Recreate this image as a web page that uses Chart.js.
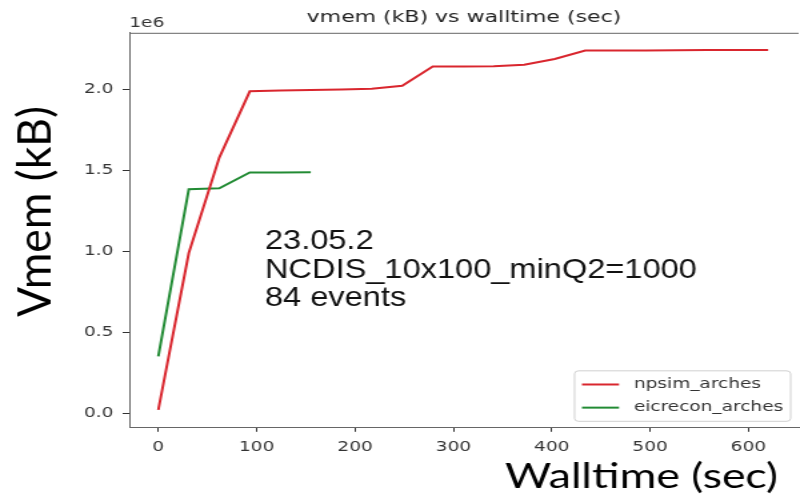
<!DOCTYPE html>
<html>
<head>
<meta charset="utf-8">
<script src="https://cdn.jsdelivr.net/npm/chart.js@4"></script>
<style>
  html, body { margin: 0; padding: 0; background: #fff; overflow: hidden; }
  /* the source picture is stretched sideways, so the whole canvas is too */
  #wrap { width: 600px; height: 497px; transform: scaleX(1.33333); transform-origin: 0 0; }
</style>
</head>
<body>
<div id="wrap"><canvas id="memChart"></canvas></div>
<script>
const npsimTime = [0, 31, 62, 93, 124, 155, 186, 217, 248, 279, 310, 341, 372, 403, 434, 465, 496, 527, 558, 589, 620];
const npsimVmem = [20000, 990000, 1580000, 1990000, 1995000, 1998000, 2002000, 2006000, 2024000, 2143000, 2143000,
                   2145000, 2154000, 2190000, 2242000, 2242000, 2243000, 2244000, 2245000, 2246000, 2246000];
const eicreconTime = [0, 31, 62, 93, 124, 155];
const eicreconVmem = [350000, 1385000, 1390000, 1488000, 1488000, 1489000];
const seriesLabels = ["npsim_arches", "eicrecon_arches"];
const seriesColors = ["#d9262e", "#228b34"];
const xTicks = [0, 100, 200, 300, 400, 500, 600];
const yTicks = [0, 500000, 1000000, 1500000, 2000000];
const noteLines = ["23.05.2", "NCDIS_10x100_minQ2=1000", "84 events"];

const tickFont = { family: "DejaVu Sans", size: 13.9 };

/* text squeezed/stretched to a given width */
function fitText(ctx, text, font, x, y, width) {
    ctx.save();
    ctx.font = font;
    let w = ctx.measureText(text).width;
    ctx.translate(x, y);
    ctx.scale(width / w, 1);
    ctx.textAlign = "left";
    ctx.textBaseline = "alphabetic";
    ctx.fillText(text, 0, 0);
    ctx.restore();
}

const decor = {
    id: "decor",
    afterDatasetsDraw(chart) {
        const ctx = chart.ctx;
        const a = chart.chartArea;

        // top spine
        ctx.save();
        ctx.strokeStyle = "#666";
        ctx.lineWidth = 1;
        ctx.beginPath();
        ctx.moveTo(a.left, a.top + 0.5);
        ctx.lineTo(a.right, a.top + 0.5);
        ctx.stroke();

        // offset text
        ctx.fillStyle = "#333";
        ctx.font = "13.9px 'DejaVu Sans'";
        ctx.textAlign = "left";
        ctx.textBaseline = "alphabetic";
        ctx.fillText("1e6", a.left, a.top - 6);

        // legend box, lower right
        const fs = 13.9, pad = 0.4 * fs, handle = 2 * fs, gap = 0.8 * fs, rowH = 16.2, spacing = 0.5 * fs;
        ctx.font = fs + "px 'DejaVu Sans'";
        let textW = Math.max(...seriesLabels.map(s => ctx.measureText(s).width));
        let bw = 2 * pad + handle + gap + textW;
        let bh = 2 * pad + 2 * rowH + spacing;
        let bx = a.right - 6 - bw, by = a.bottom - 6 - bh;
        ctx.fillStyle = "rgba(255,255,255,0.8)";
        ctx.strokeStyle = "#d0d0d0";
        ctx.beginPath();
        ctx.roundRect(bx, by, bw, bh, 3);
        ctx.fill();
        ctx.stroke();
        chart.data.datasets.forEach((ds, i) => {
            let cy = by + pad + rowH / 2 + i * (rowH + spacing);
            ctx.strokeStyle = ds.borderColor;
            ctx.lineWidth = 2;
            ctx.beginPath();
            ctx.moveTo(bx + pad, cy);
            ctx.lineTo(bx + pad + handle, cy);
            ctx.stroke();
            ctx.fillStyle = "#333";
            ctx.textBaseline = "middle";
            ctx.fillText(ds.label, bx + pad + handle + gap, cy);
        });
        ctx.restore();

        // big slide labels and note
        ctx.save();
        ctx.fillStyle = "#000";
        fitText(ctx, "Walltime (sec)", "35px Lato", 378.7, 488, 204.8);
        ctx.translate(37.5, 317);
        ctx.rotate(-Math.PI / 2);
        fitText(ctx, "Vmem (kB)", "35px Lato", 0, 0, 211);
        ctx.restore();

        ctx.save();
        ctx.fillStyle = "#111";
        ctx.font = "28px 'Liberation Sans'";
        let k = 324 / ctx.measureText(noteLines[1]).width;
        noteLines.forEach((line, i) => {
            let w = ctx.measureText(line).width;
            fitText(ctx, line, "28px 'Liberation Sans'", 198.7, 249 + i * 28.6, w * k);
        });
        ctx.restore();
    }
};

function updateChart() {
    let ctx = document.getElementById("memChart").getContext("2d");
    new Chart(ctx, {
        type: "line",
        data: {
            datasets: [
                {
                    label: seriesLabels[0],
                    data: npsimTime.map((t, i) => ({ x: t, y: npsimVmem[i] })),
                    borderColor: seriesColors[0],
                    borderWidth: 2,
                    pointRadius: 0,
                    tension: 0,
                    fill: false
                },
                {
                    label: seriesLabels[1],
                    data: eicreconTime.map((t, i) => ({ x: t, y: eicreconVmem[i] })),
                    borderColor: seriesColors[1],
                    borderWidth: 2,
                    pointRadius: 0,
                    tension: 0,
                    fill: false
                }
            ]
        },
        options: {
            responsive: true,
            maintainAspectRatio: false,
            animation: false,
            layout: { padding: 0 },
            scales: {
                x: {
                    type: "linear",
                    min: -29.5,
                    max: 651,
                    afterBuildTicks: s => { s.ticks = xTicks.map(v => ({ value: v })); },
                    afterFit: s => { s.height = 69.7; },
                    grid: { drawOnChartArea: false, drawTicks: true, tickLength: 4.5, tickColor: "#333", tickWidth: 1 },
                    border: { display: true, color: "#666", width: 1 },
                    ticks: { font: tickFont, color: "#333", padding: 7, maxRotation: 0, callback: v => v }
                },
                y: {
                    type: "linear",
                    min: -88000,
                    max: 2352000,
                    afterBuildTicks: s => { s.ticks = yTicks.map(v => ({ value: v })); },
                    afterFit: s => { s.width = 97; },
                    grid: { drawOnChartArea: false, drawTicks: true, tickLength: 5, tickColor: "#333", tickWidth: 1 },
                    border: { display: true, color: "#666", width: 1 },
                    ticks: { font: tickFont, color: "#333", padding: 7, callback: v => (v / 1e6).toFixed(1) }
                }
            },
            plugins: {
                legend: { display: false },
                tooltip: { enabled: false },
                title: {
                    display: true,
                    text: "vmem (kB) vs walltime (sec)",
                    fullSize: false,
                    color: "#222",
                    font: { family: "DejaVu Sans", size: 16.5, weight: "normal" },
                    padding: { top: 8, bottom: 5 }
                }
            }
        },
        plugins: [decor]
    });
}

updateChart();
</script>
</body>
</html>
